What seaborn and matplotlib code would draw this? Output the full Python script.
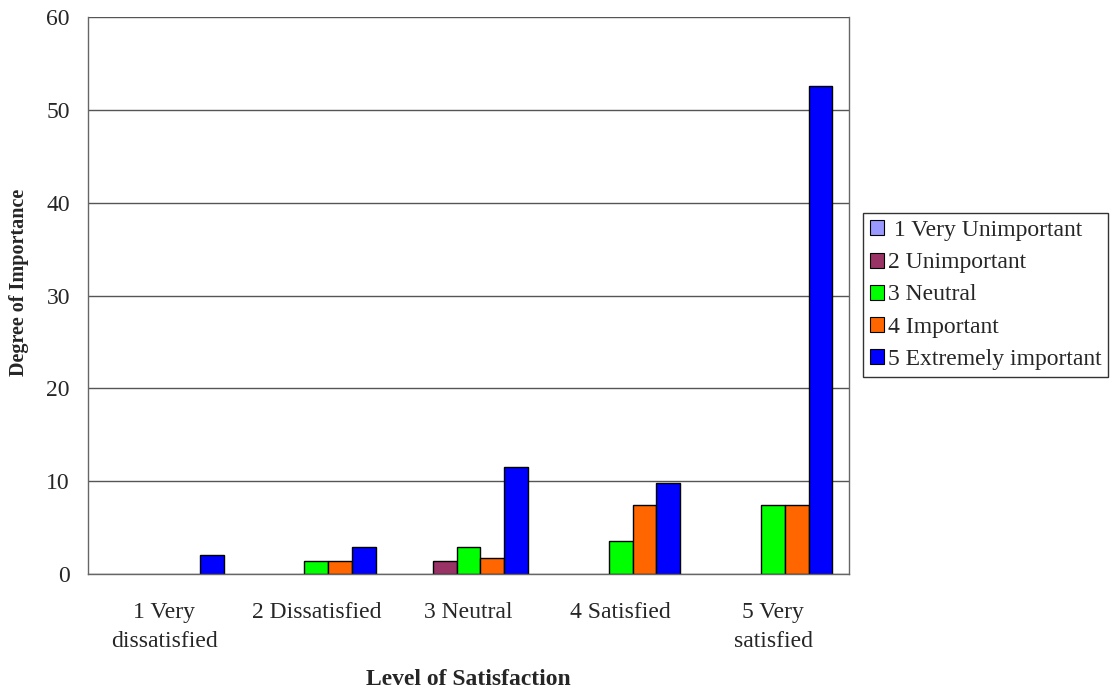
import pandas as pd
import matplotlib
matplotlib.use("Agg")
import matplotlib.pyplot as plt
import seaborn as sns

# level of satisfaction (x groups)
satisfaction = ["1 Very\ndissatisfied", "2 Dissatisfied", "3 Neutral",
                "4 Satisfied", "5 Very\nsatisfied"]
# degree of importance (hue)
importance = ["1 Very Unimportant", "2 Unimportant", "3 Neutral",
              "4 Important", "5 Extremely important"]

very_unimportant = [0, 0, 0, 0, 0]
unimportant = [0, 0, 1.45, 0, 0]
neutral = [0, 1.45, 2.9, 3.55, 7.4]
important = [0, 1.45, 1.7, 7.4, 7.4]
extremely_important = [2.1, 2.9, 11.5, 9.75, 52.6]

colors = ["#9999FF", "#993366", "#00FF00", "#FF6600", "#0000FF"]

series = [very_unimportant, unimportant, neutral, important, extremely_important]
rows = []
for name, vals in zip(importance, series):
    for s, v in zip(satisfaction, vals):
        rows.append({"satisfaction": s, "importance": name, "value": v})
df = pd.DataFrame(rows)

sns.set_style("white")
plt.rcParams["font.family"] = ["Liberation Serif", "DejaVu Serif"]

fig = plt.figure(figsize=(11.1, 6.89), dpi=100)
ax = fig.add_axes([0.0793, 0.1669, 0.6857, 0.8084])

sns.barplot(data=df, x="satisfaction", y="value", hue="importance",
            order=satisfaction, hue_order=importance, palette=colors,
            saturation=1, width=0.78, edgecolor="black", linewidth=1.0,
            ax=ax, legend=False, errorbar=None)

# zero-height bars leave no mark
for p in ax.patches:
    if p.get_height() == 0:
        p.set_linewidth(0)

ax.set_ylim(0, 60)
ax.set_yticks(range(0, 61, 10))
ax.set_xlim(-0.5, 4.5)
ax.yaxis.grid(True, color="#555555", linewidth=1.0)
ax.set_axisbelow(True)
for sp in ax.spines.values():
    sp.set_color("#666666")
    sp.set_linewidth(1.0)
ax.spines["top"].set_visible(False)

# group separators as x ticks
ax.set_xticks([i - 0.5 for i in range(6)], minor=False)
ax.set_xticklabels([""] * 6)
ax.set_xticks(range(5), minor=True)
ax.set_xticklabels(satisfaction, minor=True, fontsize=17, linespacing=1.48)
ax.tick_params(axis="x", which="major", direction="out", length=8,
               color="#666666", width=1)
ax.tick_params(axis="x", which="minor", length=0, pad=20.5)
ax.tick_params(axis="y", direction="out", length=8, color="#333333",
               width=1, labelsize=17, pad=5)

ax.set_xlabel("Level of Satisfaction", fontsize=17, fontweight="bold",
              labelpad=12)
ax.set_ylabel("Degree of Importance", fontsize=14.5, fontweight="bold")
ax.yaxis.set_label_coords(-0.077, 0.524)

handles = [plt.Rectangle((0, 0), 1, 1, facecolor=c, edgecolor="black",
                         linewidth=0.8) for c in colors]
labels = [" " + importance[0]] + importance[1:]
leg = ax.legend(handles, labels, loc="center left",
                bbox_to_anchor=(1.018, 0.501), fontsize=17, frameon=True,
                fancybox=False, edgecolor="black", handlelength=0.6,
                handleheight=0.6, handletextpad=0.15, labelspacing=0.47,
                borderpad=0.3, borderaxespad=0)
leg.get_frame().set_linewidth(1.0)

fig.savefig("out.png", dpi=100)
